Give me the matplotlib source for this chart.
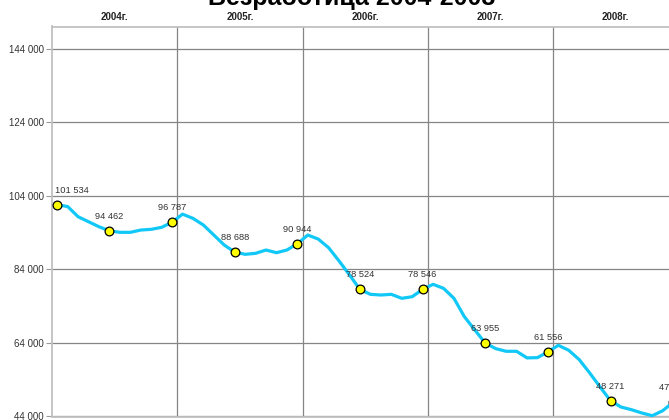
import numpy as np
import matplotlib.pyplot as plt

plt.rcParams['font.family'] = ['Liberation Sans', 'DejaVu Sans']

# monthly values, Jan 2004 .. Dec 2008
values = [101534, 101066, 98294, 96936, 95577, 94462,
          94056, 94050, 94680, 94870, 95410, 96787,
          99000, 97860, 96040, 93320, 90600, 88688,
          88080, 88350, 89250, 88520, 89250, 90944,
          93320, 92230, 89870, 86260, 82460, 78524,
          77207, 77020, 77207, 76120, 76560, 78546,
          79924, 78840, 76120, 71120, 67510, 63955,
          62450, 61720, 61720, 59930, 60000, 61556,
          63350, 61990, 59460, 55840, 52030, 48271,
          46580, 45850, 44950, 44220, 45580, 47884]
marker_idx = [0, 5, 11, 17, 23, 29, 35, 41, 47, 53, 59]
years = ['2004г.', '2005г.', '2006г.', '2007г.', '2008г.']
yticks = [44000, 64000, 84000, 104000, 124000, 144000]

months = np.arange(len(values))
vals = np.array(values)

fig = plt.figure(figsize=(6.69, 4.2), dpi=100)
# axes run past the right edge, like the cropped original
ax = fig.add_axes([52/669, 3.5/420, 626.4/669, 390/420])

ax.set_xlim(-0.5, 59.5)
ax.set_ylim(44000, 150000)

# grid
for y in yticks:
    ax.axhline(y, color='#858585', lw=0.9, zorder=1)
for k in range(1, 5):
    ax.axvline(-0.5 + 12*k, color='#858585', lw=0.9, zorder=1)

for s in ['left', 'bottom', 'top']:
    ax.spines[s].set_color('#c0c0c0')
    ax.spines[s].set_linewidth(1.3)
ax.spines['right'].set_visible(False)

ax.set_yticks(yticks)
ax.set_yticklabels([f"{v:,}".replace(',', ' ') for v in yticks], fontsize=7, color='#333333')
ax.tick_params(axis='y', length=4, color='#999999', pad=2)
ax.set_xticks([])

# year labels at the top
for i, yr in enumerate(years):
    ax.annotate(yr, (5.5 + 12*i, 150000), xytext=(0, 4), textcoords='offset pixels',
                ha='center', va='bottom', fontsize=7, fontweight='bold',
                color='#222222', annotation_clip=False)

ax.plot(months, vals, color='#12c8f7', lw=2.3, zorder=3, solid_capstyle='round')
ax.plot(months[marker_idx], vals[marker_idx], 'o', color='#ffff00', mec='black',
        mew=0.9, markersize=6.3, zorder=4)

for i in marker_idx:
    lab = f"{values[i]:,}".replace(',', ' ')
    if i == 0:
        ax.annotate(lab, (months[i], vals[i]), xytext=(-2, 10), textcoords='offset pixels',
                    ha='left', va='bottom', fontsize=6.7, color='#333333')
    else:
        ax.annotate(lab, (months[i], vals[i]), xytext=(0, 10), textcoords='offset pixels',
                    ha='center', va='bottom', fontsize=6.7, color='#333333')

# title, mostly cut off at the top
fig.text(352/669, 1 - 5/420, 'Безработица 2004-2008', ha='center',
         va='baseline', fontsize=18, fontweight='bold', color='black')

fig.savefig('out.png', dpi=100)
